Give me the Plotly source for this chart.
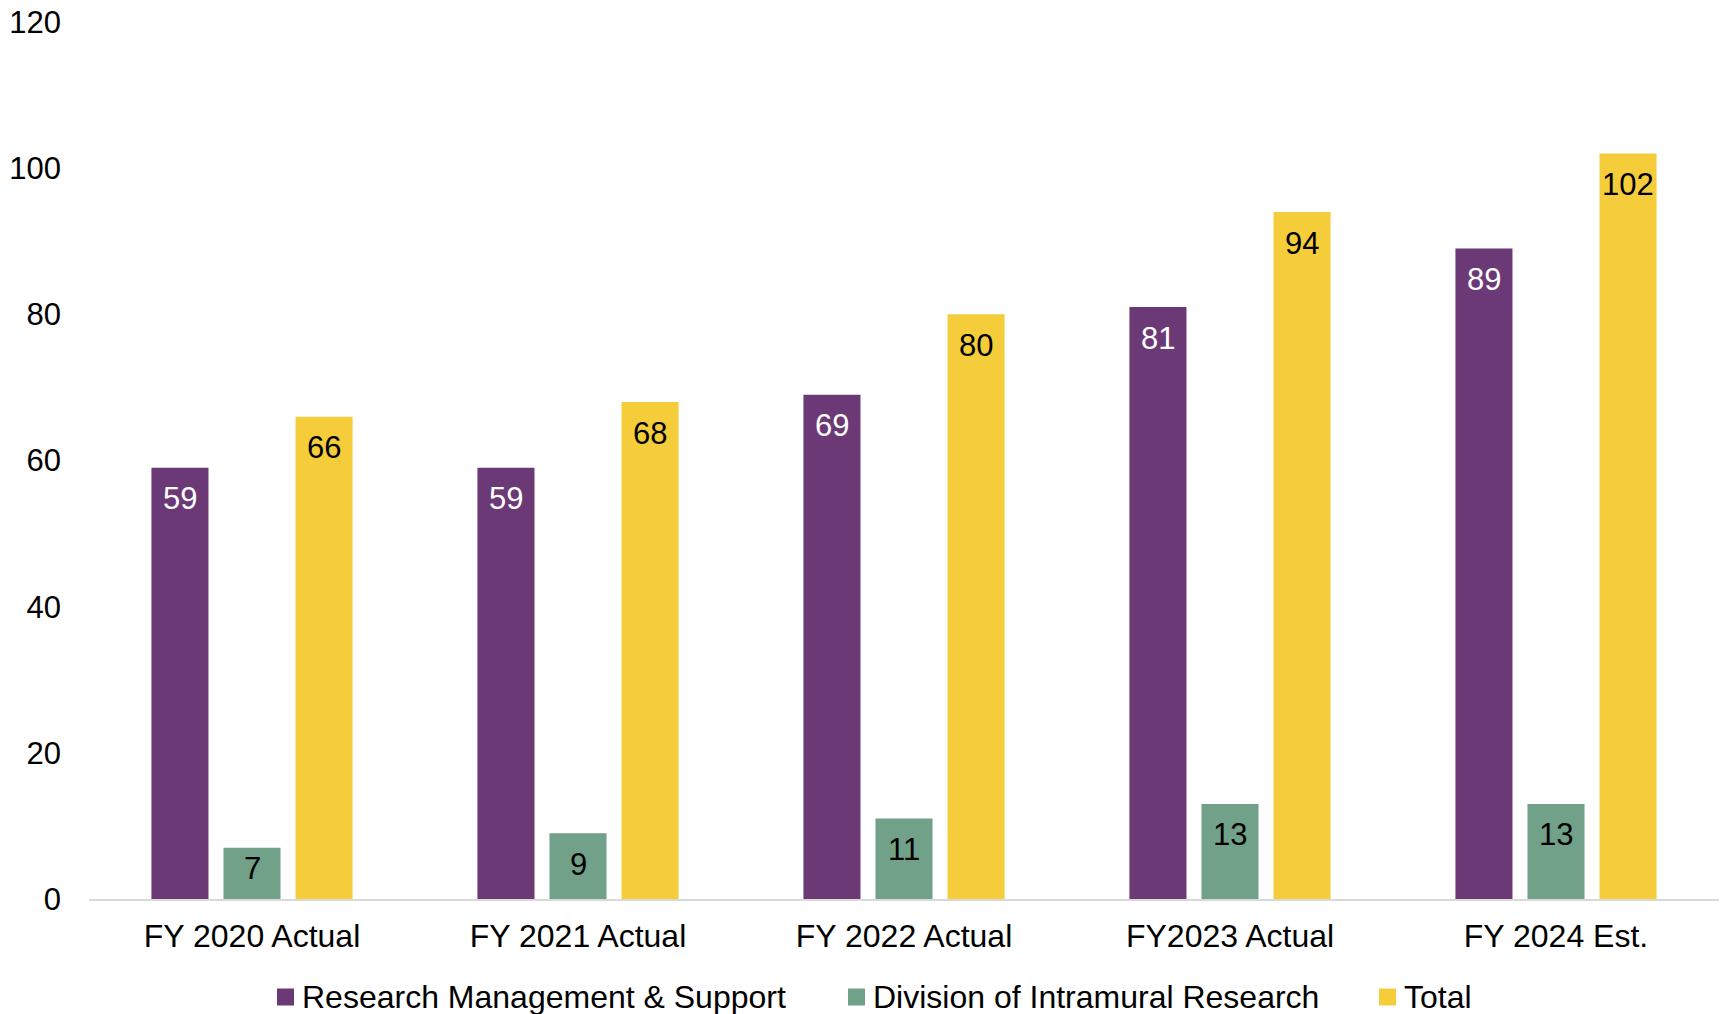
import plotly.graph_objects as go

categories = ["FY 2020 Actual", "FY 2021 Actual", "FY 2022 Actual", "FY2023 Actual", "FY 2024 Est."]
rms = [59, 59, 69, 81, 89]
dir_vals = [7, 9, 11, 13, 13]
total = [66, 68, 80, 94, 102]
y_ticks = [0, 20, 40, 60, 80, 100, 120]

names = ["Research Management & Support", "Division of Intramural Research", "Total"]
series = [rms, dir_vals, total]

FONT = "Liberation Sans, Arial, sans-serif"
colors = ["#6B3976", "#72A189", "#F5CD3B"]
text_colors = ["white", "black", "black"]

W, H = 1721, 1014
ML, MR, MT, MB = 89, 2, 22, 115
PW, PH = W - ML - MR, H - MT - MB
Y_MAX = 120
px_per_unit = PH / Y_MAX
cat_px = PW / len(categories)
BARGAP = 0.337
slot_px = cat_px * (1 - BARGAP) / 3

fig = go.Figure()
for name, vals, c in zip(names, series, colors):
    fig.add_trace(go.Bar(
        x=categories, y=vals, name=name,
        marker=dict(color=c, line=dict(width=0)),
        hoverinfo="skip", showlegend=False,
    ))

# data labels placed inside the top of each bar
annotations = []
for i, (vals, tc) in enumerate(zip(series, text_colors)):
    for cat, v in zip(categories, vals):
        shift = min(31, v * px_per_unit - 30)
        annotations.append(dict(
            x=cat, y=v, xref="x", yref="y", text=str(v), showarrow=False,
            xanchor="center", yanchor="middle",
            xshift=(i - 1) * slot_px, yshift=-shift,
            font=dict(family=FONT, size=31, color=tc),
        ))

# legend drawn below the axis
legend_marker_px = [277, 848, 1379]
legend_y = -(997 - (H - MB)) / PH
for name, c, mx in zip(names, colors, legend_marker_px):
    xp = (mx - ML) / PW
    fig.add_shape(type="rect", xref="paper", yref="paper",
                  xsizemode="pixel", ysizemode="pixel",
                  xanchor=xp, yanchor=legend_y,
                  x0=0, x1=17, y0=-8.5, y1=8.5,
                  fillcolor=c, line=dict(width=0))
    annotations.append(dict(
        x=(mx + 23 - ML) / PW, y=legend_y, xref="paper", yref="paper",
        text=name, showarrow=False, xanchor="left", yanchor="middle",
        font=dict(family=FONT, size=32, color="black"),
    ))

fig.update_layout(
    width=W, height=H,
    margin=dict(l=ML, r=MR, t=MT, b=MB, autoexpand=False),
    paper_bgcolor="white", plot_bgcolor="white",
    barmode="group", bargap=BARGAP, bargroupgap=0.208,
    font=dict(family=FONT, size=32, color="black"),
    showlegend=False,
    annotations=annotations,
    xaxis=dict(showline=True, linecolor="#D9D9D9", linewidth=2, ticks="",
               showgrid=False, zeroline=False, ticklabelstandoff=8,
               tickangle=0, automargin=False,
               tickfont=dict(family=FONT, size=32, color="black")),
    yaxis=dict(range=[0, Y_MAX], tickvals=y_ticks, showgrid=False, zeroline=False,
               showline=False, ticks="", ticklabelstandoff=27, automargin=False,
               tickfont=dict(family=FONT, size=31, color="black")),
)

fig.write_html(
    "out.html",
    config={"displayModeBar": False, "staticPlot": True},
    post_script="document.body.style.margin='0';document.body.style.overflow='hidden';",
)
